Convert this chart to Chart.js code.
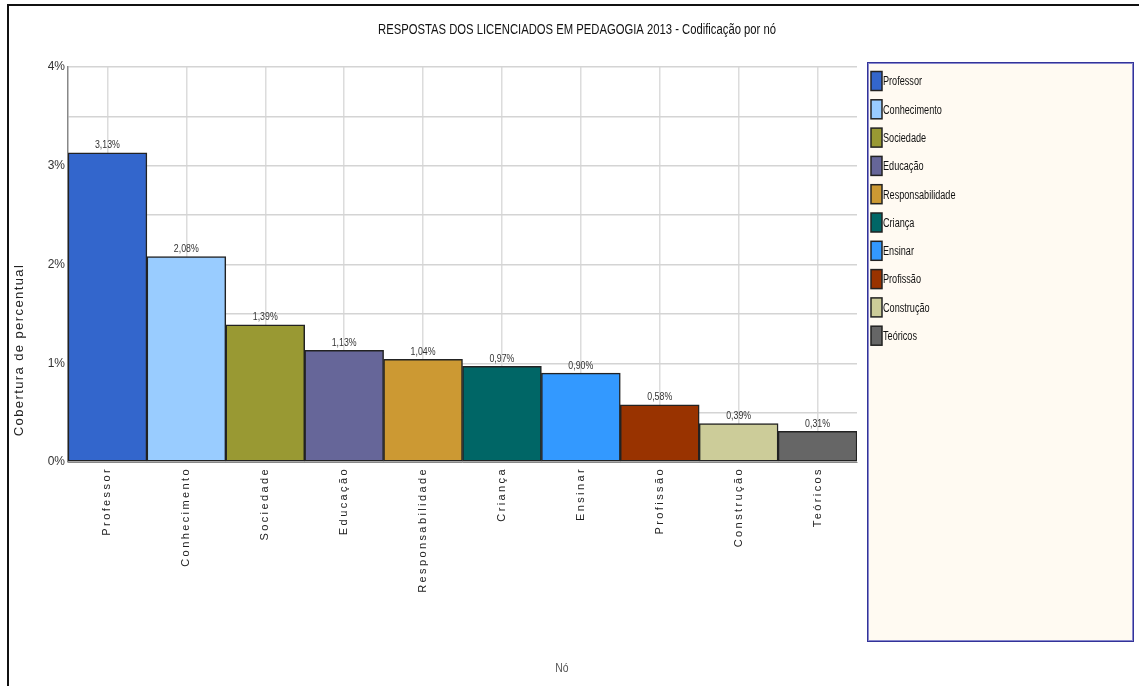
<!DOCTYPE html>
<html>
<head>
<meta charset="utf-8">
<script src="https://cdn.jsdelivr.net/npm/chart.js@4"></script>
<style>
  html, body { margin: 0; padding: 0; background: #fff; }
  canvas { display: block; }
</style>
</head>
<body>
<canvas id="chart" width="1139" height="686"></canvas>
<script>
// ===== Data =====
const categories = ['Professor', 'Conhecimento', 'Sociedade', 'Educação', 'Responsabilidade',
                    'Criança', 'Ensinar', 'Profissão', 'Construção', 'Teóricos'];
const coverage = [3.13, 2.08, 1.39, 1.13, 1.04, 0.97, 0.90, 0.58, 0.39, 0.31];
const barColors = ['#3366CC', '#99CCFF', '#999933', '#666699', '#CC9933',
                   '#006666', '#3399FF', '#993300', '#CCCC99', '#666666'];
const yTickValues = [0, 1, 2, 3, 4];

const chartTitle = 'RESPOSTAS DOS LICENCIADOS EM PEDAGOGIA 2013 - Codificação por nó';
const yTitle = 'Cobertura de percentual';
const xTitle = 'Nó';

const SANS = '"Liberation Sans", Arial, sans-serif';

function pct(v) {
    return v.toFixed(2).replace('.', ',') + '%';
}

// narrow text: the original uses a condensed face that is not installed here
function narrowText(ctx, text, x, y, sx) {
    ctx.save();
    ctx.translate(x, y);
    ctx.scale(sx, 1);
    ctx.fillText(text, 0, 0);
    ctx.restore();
}

// ===== Extra drawing: title, axis titles, value labels, legend, frame =====
const decor = {
    id: 'decor',
    beforeDraw(chart) {
        const ctx = chart.ctx;
        ctx.letterSpacing = '0px';
        ctx.save();
        ctx.fillStyle = '#fff';
        ctx.fillRect(0, 0, chart.width, chart.height);
        ctx.restore();
    },
    afterDatasetsDraw(chart) {
        const ctx = chart.ctx;
        const meta = chart.getDatasetMeta(0);
        ctx.save();
        ctx.font = '11px ' + SANS;
        ctx.fillStyle = '#333';
        ctx.textAlign = 'center';
        ctx.textBaseline = 'bottom';
        meta.data.forEach((bar, i) => {
            narrowText(ctx, pct(coverage[i]), bar.x, bar.y - 2, 0.8);
        });
        ctx.restore();
        // x tick labels (drawn on the top layer) are spaced out like the original
        ctx.letterSpacing = '2.4px';
    },
    afterDraw(chart) {
        const ctx = chart.ctx;
        ctx.letterSpacing = '0px';
        ctx.save();

        // frame
        ctx.strokeStyle = '#111';
        ctx.lineWidth = 2;
        ctx.beginPath();
        ctx.moveTo(8, 686);
        ctx.lineTo(8, 5);
        ctx.lineTo(1139, 5);
        ctx.stroke();

        // title
        ctx.font = '14px ' + SANS;
        ctx.fillStyle = '#111';
        ctx.textAlign = 'center';
        ctx.textBaseline = 'middle';
        const tw = ctx.measureText(chartTitle).width;
        narrowText(ctx, chartTitle, 577, 30, 398 / tw);

        // x title
        ctx.font = '13px ' + SANS;
        ctx.fillStyle = '#555';
        narrowText(ctx, xTitle, 562, 668, 0.8);

        // y title
        ctx.save();
        ctx.translate(19, 350);
        ctx.rotate(-Math.PI / 2);
        ctx.font = '13px ' + SANS;
        ctx.letterSpacing = '1.4px';
        ctx.fillStyle = '#222';
        ctx.fillText(yTitle, 0, 0);
        ctx.restore();
        ctx.letterSpacing = '0px';

        // legend box
        ctx.fillStyle = '#FFFAF2';
        ctx.fillRect(867, 62, 267, 580);
        ctx.strokeStyle = '#8888CC';
        ctx.lineWidth = 1;
        ctx.strokeRect(868.5, 63.5, 264, 577);
        ctx.strokeStyle = '#333399';
        ctx.strokeRect(867.5, 62.5, 266, 579);

        ctx.font = '12px ' + SANS;
        ctx.textAlign = 'left';
        ctx.textBaseline = 'middle';
        categories.forEach((name, i) => {
            const cy = 81 + i * 28.3;
            ctx.fillStyle = barColors[i];
            ctx.fillRect(871, cy - 9.5, 11, 19);
            ctx.strokeStyle = '#222';
            ctx.lineWidth = 1.5;
            ctx.strokeRect(871, cy - 9.5, 11, 19);
            ctx.fillStyle = '#111';
            narrowText(ctx, name, 883, cy + 1, 0.76);
        });

        ctx.restore();
    }
};

// ===== Chart =====
const ctx = document.getElementById('chart').getContext('2d');
const coverageChart = new Chart(ctx, {
    type: 'bar',
    data: {
        labels: categories,
        datasets: [{
            label: yTitle,
            data: coverage,
            backgroundColor: barColors,
            borderColor: '#222',
            borderWidth: 1.5,
            borderSkipped: false,
            barPercentage: 1,
            categoryPercentage: 1
        }]
    },
    options: {
        responsive: false,
        devicePixelRatio: 1,
        animation: false,
        layout: { padding: { left: 10, top: 67, right: 282, bottom: 74 } },
        plugins: {
            legend: { display: false },
            title: { display: false },
            tooltip: { enabled: false }
        },
        scales: {
            x: {
                afterFit: s => { s.height = 150; },
                grid: { offset: false, color: '#dcdcdc', lineWidth: 1.5, drawTicks: false },
                border: { display: true, color: '#888' },
                ticks: {
                    z: 1,
                    autoSkip: false,
                    minRotation: 90,
                    maxRotation: 90,
                    padding: 5,
                    color: '#222',
                    font: { family: SANS, size: 11 }
                }
            },
            y: {
                min: 0,
                max: 4,
                afterFit: s => { s.width = 58; },
                grid: { color: '#d4d4d4', lineWidth: 1.5, drawTicks: false },
                border: { display: true, color: '#888', width: 1.5 },
                ticks: {
                    stepSize: 0.5,
                    padding: 3,
                    color: '#333',
                    font: { family: SANS, size: 12 },
                    callback: v => yTickValues.includes(v) ? v + '%' : ''
                }
            }
        }
    },
    plugins: [decor]
});
</script>
</body>
</html>
